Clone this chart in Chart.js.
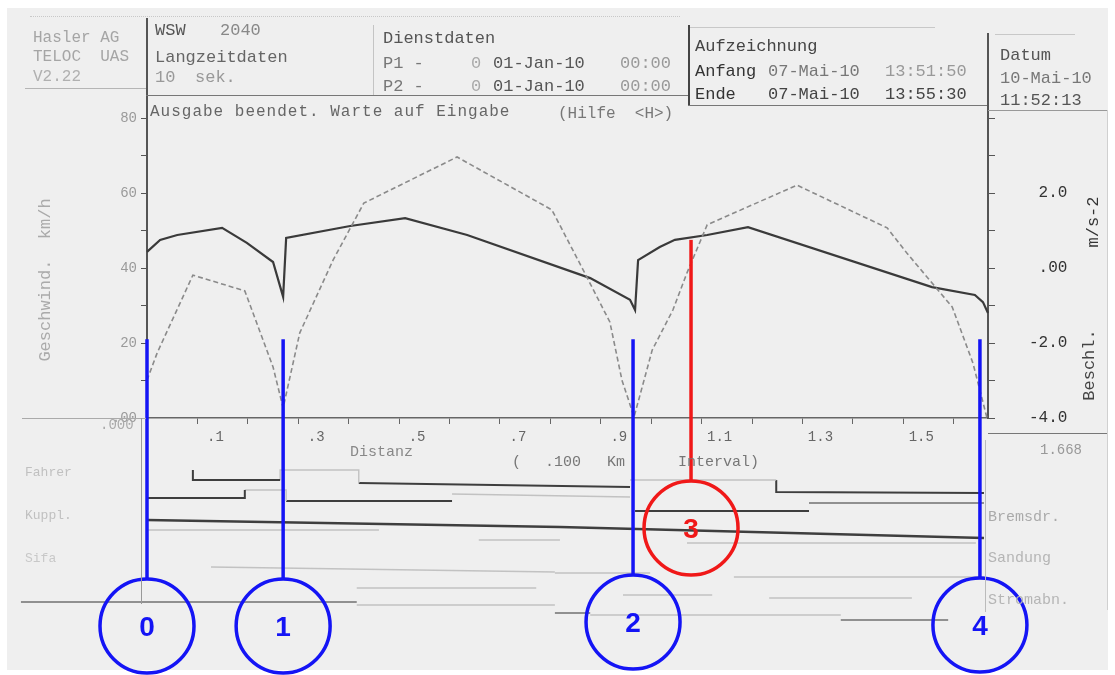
<!DOCTYPE html>
<html><head><meta charset="utf-8">
<script src="https://cdn.jsdelivr.net/npm/chart.js@4.4.0/dist/chart.umd.min.js"></script>
<style>
html,body{margin:0;padding:0;background:#fff;}
#wrap{position:relative;width:1115px;height:675px;overflow:hidden;background:#fff;}
#paper{position:absolute;left:7px;top:8px;width:1101px;height:662px;background:#efefef;}
canvas{position:absolute;left:0;}
#lower{top:440px;z-index:1;}
#main{top:0;z-index:2;}
.t{position:absolute;font-family:'Liberation Mono','DejaVu Sans Mono',monospace;white-space:pre;line-height:1;transform:translateY(-50%);z-index:3;font-size:17px;color:#555;}
.r{position:absolute;font-family:'Liberation Mono','DejaVu Sans Mono',monospace;white-space:pre;line-height:1;transform:translate(-50%,-50%) rotate(-90deg);z-index:3;font-size:17px;}
.h{position:absolute;height:0;border-top:1.5px solid #666;z-index:3;}
.v{position:absolute;width:0;border-left:1.5px solid #666;z-index:3;}
</style></head>
<body>
<div id="wrap">
  <div id="paper"></div>
  <canvas id="lower" width="1115" height="200"></canvas>
  <canvas id="main" width="1115" height="675"></canvas>

  <!-- header frame lines -->
  <div class="h" style="left:30px;top:16px;width:650px;border-top:1px dotted #c8c8c8"></div>
  <div class="h" style="left:690px;top:27px;width:245px;border-top:1px solid #c8c8c8"></div>
  <div class="h" style="left:995px;top:34px;width:80px;border-top:1px solid #c8c8c8"></div>
  <div class="v" style="left:146px;top:18px;height:100px;border-left:2px solid #555"></div>
  <div class="v" style="left:373px;top:25px;height:70px;border-left:1px solid #c4c4c4"></div>
  <div class="h" style="left:25px;top:88px;width:121px;border-top:1px solid #b5b5b5"></div>
  <div class="h" style="left:146px;top:95px;width:542px;border-top:1.5px solid #777"></div>
  <div class="v" style="left:688px;top:25px;height:80px;border-left:2px solid #444"></div>
  <div class="h" style="left:688px;top:105px;width:300px;border-top:1.5px solid #777"></div>
  <div class="v" style="left:987px;top:33px;height:85px;border-left:2px solid #555"></div>
  <div class="h" style="left:988px;top:110px;width:120px;border-top:1px solid #999"></div>
  <div class="h" style="left:22px;top:418px;width:124px;border-top:1px solid #aaa"></div>
  <div class="h" style="left:988px;top:433px;width:120px;border-top:1.5px solid #777"></div>
  <div class="v" style="left:1107px;top:110px;height:500px;border-left:1px solid #d0d0d0"></div>
  <div class="v" style="left:141px;top:418px;height:186px;border-left:1px solid #999"></div>
  <div class="v" style="left:985px;top:440px;height:172px;border-left:1px solid #bbb"></div>

  <!-- header texts -->
  <div class="t" style="left:33px;top:38px;font-size:16px;color:#a5a5a5">Hasler AG</div>
  <div class="t" style="left:33px;top:57px;font-size:16px;color:#a5a5a5">TELOC  UAS</div>
  <div class="t" style="left:33px;top:77px;font-size:16px;color:#b0b0b0">V2.22</div>
  <div class="t" style="left:155px;top:30px;color:#555">WSW</div>
  <div class="t" style="left:220px;top:30px;color:#888">2040</div>
  <div class="t" style="left:155px;top:57px;color:#666">Langzeitdaten</div>
  <div class="t" style="left:155px;top:77px;color:#999">10</div>
  <div class="t" style="left:195px;top:77px;color:#999">sek.</div>
  <div class="t" style="left:383px;top:38px;color:#555">Dienstdaten</div>
  <div class="t" style="left:383px;top:63px;color:#777">P1 -</div>
  <div class="t" style="left:471px;top:63px;color:#aaa">0</div>
  <div class="t" style="left:493px;top:63px;color:#555">01-Jan-10</div>
  <div class="t" style="left:620px;top:63px;color:#999">00:00</div>
  <div class="t" style="left:383px;top:86px;color:#777">P2 -</div>
  <div class="t" style="left:471px;top:86px;color:#aaa">0</div>
  <div class="t" style="left:493px;top:86px;color:#555">01-Jan-10</div>
  <div class="t" style="left:620px;top:86px;color:#999">00:00</div>
  <div class="t" style="left:695px;top:46px;color:#444">Aufzeichnung</div>
  <div class="t" style="left:695px;top:71px;color:#333">Anfang</div>
  <div class="t" style="left:768px;top:71px;color:#777">07-Mai-10</div>
  <div class="t" style="left:885px;top:71px;color:#999">13:51:50</div>
  <div class="t" style="left:695px;top:94px;color:#333">Ende</div>
  <div class="t" style="left:768px;top:94px;color:#444">07-Mai-10</div>
  <div class="t" style="left:885px;top:94px;color:#444">13:55:30</div>
  <div class="t" style="left:1000px;top:55px;color:#555">Datum</div>
  <div class="t" style="left:1000px;top:78px;color:#777">10-Mai-10</div>
  <div class="t" style="left:1000px;top:100px;color:#555">11:52:13</div>
  <div class="t" style="left:150px;top:112px;font-size:16px;letter-spacing:1px;color:#666">Ausgabe beendet. Warte auf Eingabe</div>
  <div class="t" style="left:558px;top:114px;font-size:16px;color:#777">(Hilfe  &lt;H&gt;)</div>

  <!-- axis texts -->
  <div class="r" style="left:45px;top:280px;color:#aaa">Geschwind.  km/h</div>
  <div class="r" style="left:1093px;top:222px;color:#333">m/s-2</div>
  <div class="r" style="left:1089px;top:365px;color:#444">Beschl.</div>
  <div class="t" style="left:100px;top:425px;font-size:14px;color:#aaa">.000</div>
  <div class="t" style="left:1040px;top:450px;font-size:14px;color:#999">1.668</div>
  <div class="t" style="left:350px;top:452px;font-size:15px;color:#888">Distanz</div>
  <div class="t" style="left:512px;top:462px;font-size:15px;color:#777">(</div>
  <div class="t" style="left:545px;top:462px;font-size:15px;color:#777">.100</div>
  <div class="t" style="left:607px;top:462px;font-size:15px;color:#777">Km</div>
  <div class="t" style="left:678px;top:462px;font-size:15px;color:#777">Interval)</div>

  <!-- event track labels -->
  <div class="t" style="left:25px;top:472px;font-size:13px;color:#c0c0c0">Fahrer</div>
  <div class="t" style="left:25px;top:515px;font-size:13px;color:#c0c0c0">Kuppl.</div>
  <div class="t" style="left:25px;top:558px;font-size:13px;color:#c8c8c8">Sifa</div>
  <div class="t" style="left:988px;top:517px;font-size:15px;color:#aaa">Bremsdr.</div>
  <div class="t" style="left:988px;top:558px;font-size:15px;color:#b5b5b5">Sandung</div>
  <div class="t" style="left:988px;top:600px;font-size:15px;color:#b5b5b5">Stromabn.</div>
</div>

<script>
// ---------- data ----------
const distanceRangeKm = [0, 1.668];

const speedKm  = [0.000, 0.020, 0.091, 0.194, 0.250, 0.270, 0.303, 0.369, 0.430, 0.615, 0.803, 0.865, 0.918, 0.942, 0.966, 1.002, 1.043, 1.071, 1.111, 1.289, 1.468, 1.507, 1.597, 1.638, 1.666];
const speedKmh = [10.1, 17.3, 38.1, 33.9, 13.6, 2.7, 22.7, 42.1, 57.3, 69.6, 55.5, 39.5, 25.6, 10.1, 0.3, 18.1, 28.8, 38.7, 51.5, 62.1, 50.7, 44.0, 29.6, 14.7, 0.0];

const accelKm  = [0.000, 0.026, 0.060, 0.149, 0.198, 0.250, 0.270, 0.276, 0.403, 0.512, 0.635, 0.879, 0.958, 0.968, 0.974, 1.017, 1.047, 1.111, 1.192, 1.557, 1.642, 1.658, 1.668];
const accelMs2 = [0.43, 0.75, 0.88, 1.07, 0.67, 0.16, -0.77, 0.80, 1.12, 1.33, 0.88, -0.27, -0.85, -1.12, 0.21, 0.56, 0.75, 0.88, 1.09, -0.51, -0.72, -0.91, -1.20];

const xTickValues = [0.1,0.2,0.3,0.4,0.5,0.6,0.7,0.8,0.9,1.0,1.1,1.2,1.3,1.4,1.5,1.6];
const xTickLabels = ['.1','','.3','','.5','','.7','','.9','','1.1','','1.3','','1.5',''];
const speedTickValues = [0,10,20,30,40,50,60,70,80];
const speedTickLabels = ['.00','','20','','40','','60','','80'];
const accelTickValues = [-4,-3,-2,-1,0,1,2,3,4];
const accelTickLabels = ['-4.0','','-2.0','',' .00','',' 2.0','',''];

// annotation markers (position along distance, start level in km/h)
const markerKm     = [0.000, 0.270, 0.964, 1.079, 1.652];
const markerLabels = ['0', '1', '2', '3', '4'];
const markerFromKmh = [21, 21, 21, 47.5, 21];

// event traces: [km, track level]; tone d=dark, m=medium, f=faint
const track1 = [
  {tone:'d', pts:[[0.091,3.0],[0.091,4.0],[0.264,4.0]]},
  {tone:'f', pts:[[0.264,4.0],[0.264,3.0],[0.420,3.0],[0.420,4.3]]},
  {tone:'d', pts:[[0.420,4.3],[0.958,4.7]]},
  {tone:'f', pts:[[0.958,4.0],[1.248,4.0]]},
  {tone:'d', pts:[[1.248,4.0],[1.248,5.2],[1.660,5.3]]}
];
const track2 = [
  {tone:'d', pts:[[0.000,5.8],[0.194,5.8],[0.194,5.0]]},
  {tone:'f', pts:[[0.194,5.0],[0.276,5.0],[0.276,6.1]]},
  {tone:'d', pts:[[0.276,6.1],[0.605,6.1]]},
  {tone:'f', pts:[[0.605,5.4],[0.958,5.7]]},
  {tone:'d', pts:[[0.968,7.1],[1.313,7.1]]},
  {tone:'m', pts:[[1.313,6.3],[1.660,6.3]]}
];
const track3 = [
  {tone:'d', pts:[[0.000,8.0],[0.819,8.7],[1.660,9.8]]},
  {tone:'f', pts:[[0.000,9.0],[0.460,9.0]]},
  {tone:'f', pts:[[0.658,10.0],[0.819,10.0]]},
  {tone:'f', pts:[[1.071,10.3],[1.644,10.3]]}
];
const track4 = [
  {tone:'f', pts:[[0.127,12.7],[0.809,13.2]]},
  {tone:'f', pts:[[0.809,13.3],[0.998,13.3]]},
  {tone:'f', pts:[[1.164,13.7],[1.660,13.7]]},
  {tone:'f', pts:[[0.416,14.8],[0.772,14.8]]},
  {tone:'f', pts:[[0.944,15.5],[1.121,15.5]]},
  {tone:'f', pts:[[1.234,15.8],[1.517,15.8]]}
];
const track5 = [
  {tone:'m', pts:[[-0.250,16.2],[0.416,16.2]]},
  {tone:'f', pts:[[0.416,16.5],[0.809,16.5]]},
  {tone:'m', pts:[[0.809,17.3],[0.879,17.3]]},
  {tone:'f', pts:[[0.879,17.5],[1.376,17.5]]},
  {tone:'m', pts:[[1.376,18.0],[1.589,18.0]]}
];

// ---------- styles / layout ----------
Chart.defaults.font.family = "'Liberation Mono','DejaVu Sans Mono',monospace";
const AREA = {left:147, right:988, top:118, bottom:418, W:1115, H:675};
const toneStyle = {d:{c:'#3e3e3e', w:2}, m:{c:'#707070', w:1.6}, f:{c:'#c2c2c2', w:1.4}};
const markerColors = ['#1414f5','#1414f5','#1414f5','#f01818','#1414f5'];
const markerCircleY = [626, 626, 622, 528, 625];
const markerRadius = 47;

const annotate = {
  id:'annotate',
  afterDraw(chart){
    const ctx = chart.ctx, xs = chart.scales.x, ys = chart.scales.y;
    ctx.save();
    markerKm.forEach((km, i) => {
      const px = xs.getPixelForValue(km);
      const top = ys.getPixelForValue(markerFromKmh[i]);
      const cy = markerCircleY[i];
      ctx.strokeStyle = markerColors[i];
      ctx.lineWidth = 3.5;
      ctx.beginPath();
      ctx.moveTo(px, top);
      ctx.lineTo(px, cy - markerRadius);
      ctx.stroke();
      ctx.beginPath();
      ctx.arc(px, cy, markerRadius, 0, Math.PI*2);
      ctx.stroke();
      ctx.fillStyle = markerColors[i];
      ctx.font = "bold 28px 'Liberation Sans', Arial, sans-serif";
      ctx.textAlign = 'center';
      ctx.textBaseline = 'middle';
      ctx.fillText(markerLabels[i], px, cy + 2);
    });
    ctx.restore();
  }
};

new Chart(document.getElementById('main'), {
  type:'line',
  data:{datasets:[
    {label:'Geschwind. km/h', yAxisID:'y',
     data: speedKm.map((x,i)=>({x, y:speedKmh[i]})),
     borderColor:'#8a8a8a', borderWidth:1.6, borderDash:[5,3], pointRadius:0, tension:0, clip:4},
    {label:'Beschl. m/s-2', yAxisID:'y2',
     data: accelKm.map((x,i)=>({x, y:accelMs2[i]})),
     borderColor:'#3a3a3a', borderWidth:2.2, pointRadius:0, tension:0, clip:4}
  ]},
  options:{
    responsive:false, animation:false, devicePixelRatio:1,
    layout:{padding:{top:AREA.top, left:0, right:0, bottom:0}},
    plugins:{legend:{display:false}, tooltip:{enabled:false}},
    scales:{
      x:{type:'linear', min:distanceRangeKm[0], max:distanceRangeKm[1],
         afterFit(s){ s.height = AREA.H - AREA.bottom; },
         afterBuildTicks(s){ s.ticks = xTickValues.map(v=>({value:v})); },
         ticks:{callback:(v,i)=>xTickLabels[i], color:'#666', font:{size:14}, labelOffset:18, padding:5, maxRotation:0, autoSkip:false},
         grid:{drawOnChartArea:false, drawTicks:true, tickLength:6, color:'#666'},
         border:{color:'#666', width:1.5}},
      y:{type:'linear', position:'left', min:0, max:80,
         afterFit(s){ s.width = AREA.left; },
         afterBuildTicks(s){ s.ticks = speedTickValues.map(v=>({value:v})); },
         ticks:{callback:(v,i)=>speedTickLabels[i], color:'#9a9a9a', font:{size:14}, padding:4, autoSkip:false},
         grid:{drawOnChartArea:false, drawTicks:true, tickLength:6, color:'#555'},
         border:{color:'#555', width:2}},
      y2:{type:'linear', position:'right', min:-4, max:4,
         afterFit(s){ s.width = AREA.W - AREA.right; },
         afterBuildTicks(s){ s.ticks = accelTickValues.map(v=>({value:v})); },
         ticks:{callback:(v,i)=>accelTickLabels[i], color:'#333', font:{size:16}, padding:34, crossAlign:'near', autoSkip:false},
         grid:{drawOnChartArea:false, drawTicks:true, tickLength:7, color:'#555'},
         border:{color:'#555', width:2}}
    }
  },
  plugins:[annotate]
});

// lower event panel: same km-to-pixel mapping as main plot
const pxPerKm = (AREA.right - AREA.left) / (distanceRangeKm[1] - distanceRangeKm[0]);
const lowerPadL = 7, lowerPadR = 7;
const lowerMin = distanceRangeKm[0] - (AREA.left - lowerPadL) / pxPerKm;
const lowerMax = distanceRangeKm[1] + (AREA.W - lowerPadR - AREA.right) / pxPerKm;
const lowerDatasets = [];
[track1, track2, track3, track4, track5].forEach(track => {
  track.forEach(seg => {
    const st = toneStyle[seg.tone];
    lowerDatasets.push({
      data: seg.pts.map(([x,y])=>({x,y})),
      borderColor: st.c, borderWidth: (track === track3 && seg.tone==='d') ? 2.6 : st.w,
      pointRadius:0, tension:0
    });
  });
});
new Chart(document.getElementById('lower'), {
  type:'line',
  data:{datasets: lowerDatasets},
  options:{
    responsive:false, animation:false, devicePixelRatio:1,
    layout:{padding:{left:lowerPadL, right:lowerPadR, top:0, bottom:0}},
    plugins:{legend:{display:false}, tooltip:{enabled:false}},
    scales:{
      x:{type:'linear', display:false, min:lowerMin, max:lowerMax},
      y:{type:'linear', display:false, reverse:true, min:0, max:20}
    }
  }
});
</script>
</body></html>
